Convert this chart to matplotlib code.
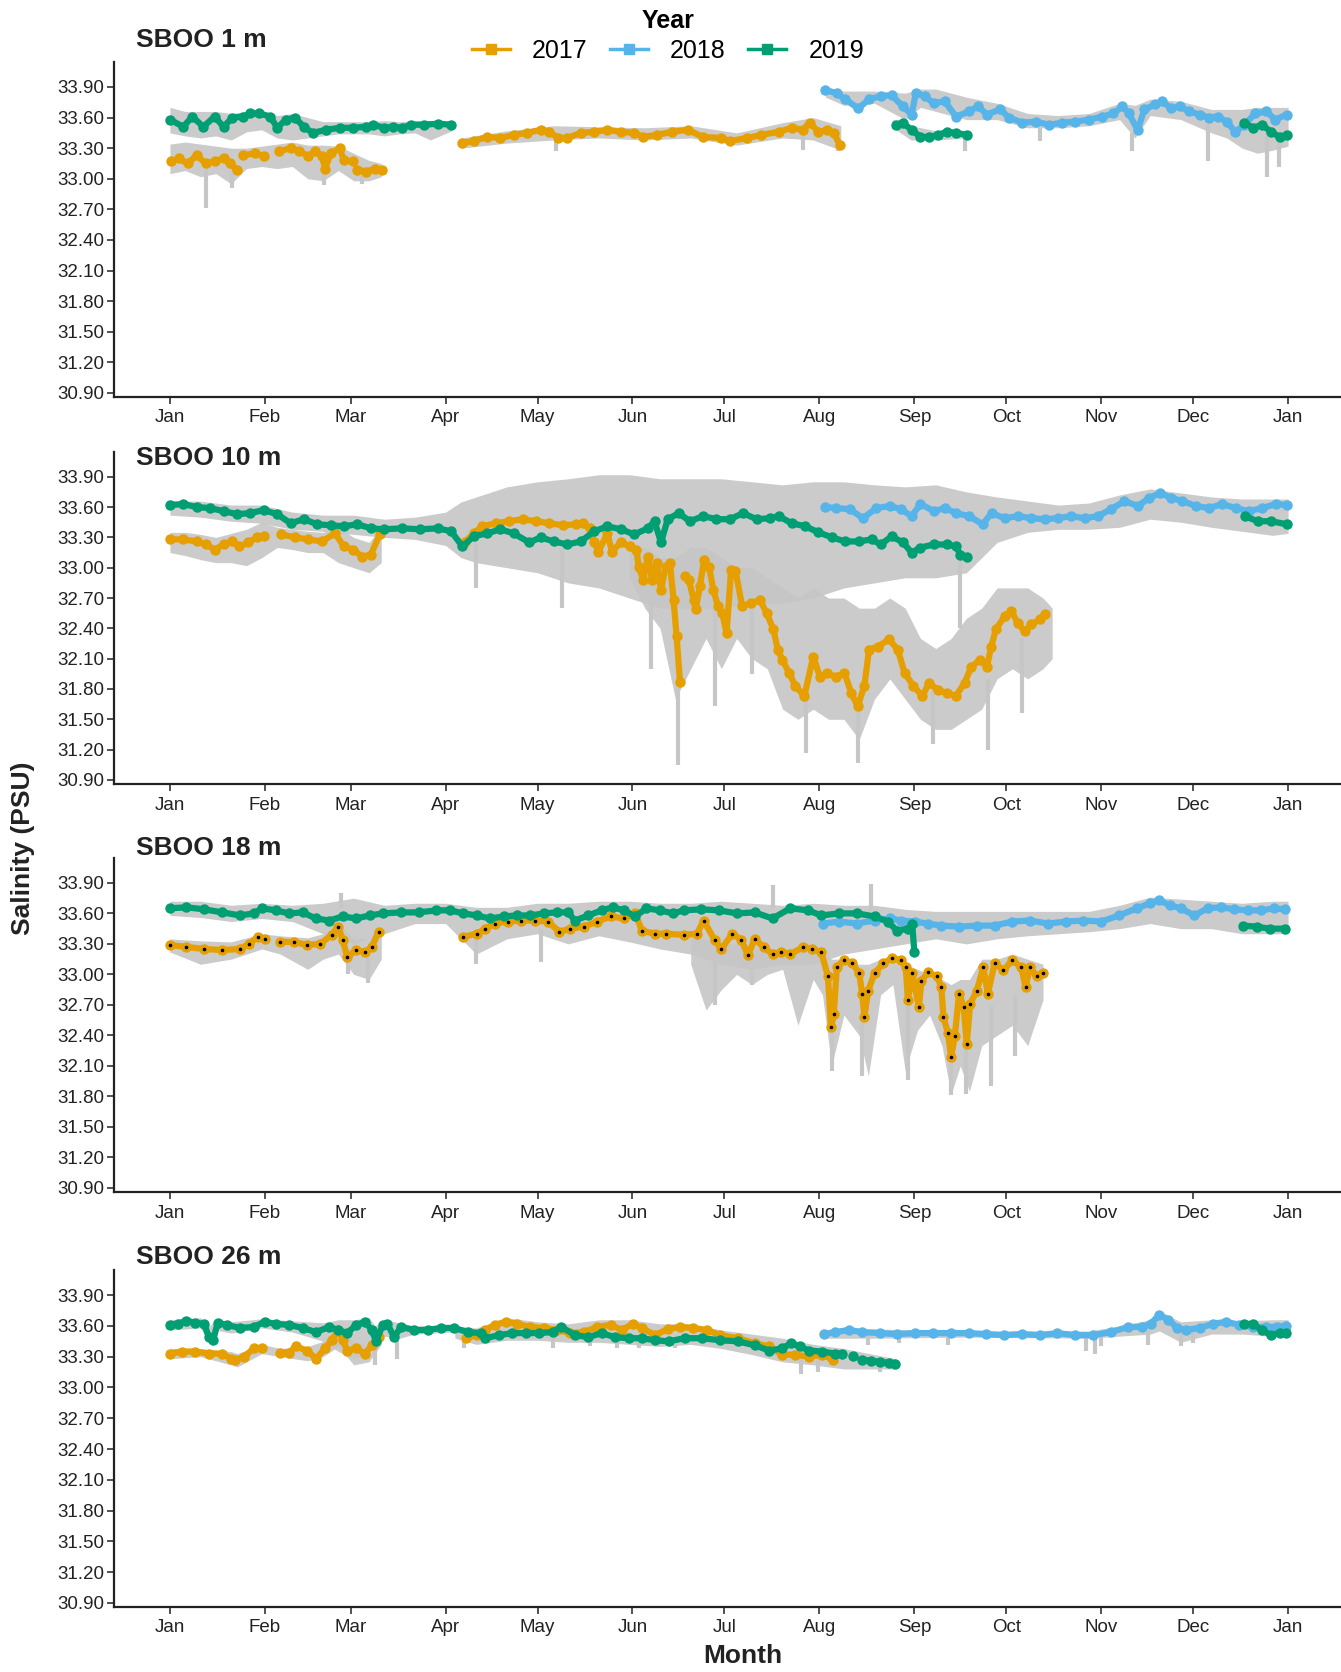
import numpy as np
import matplotlib
matplotlib.use("Agg")
import matplotlib.pyplot as plt
from matplotlib.lines import Line2D

plt.rcParams['font.family'] = ['Liberation Sans', 'DejaVu Sans']

nan = np.nan

# x axis: day of year, 0 = 1 Jan
month_names = ['Jan', 'Feb', 'Mar', 'Apr', 'May', 'Jun', 'Jul', 'Aug', 'Sep', 'Oct', 'Nov', 'Dec', 'Jan']
month_start = [0, 31, 59, 90, 120, 151, 181, 212, 243, 273, 304, 334, 365]
sal_ticks = [30.90, 31.20, 31.50, 31.80, 32.10, 32.40, 32.70, 33.00, 33.30, 33.60, 33.90]
years = ['2017', '2018', '2019']
colors = {'2017': '#E69F00', '2018': '#56B4E9', '2019': '#009E73'}
titles = ['SBOO 1 m', 'SBOO 10 m', 'SBOO 18 m', 'SBOO 26 m']

# ---------------- SBOO 1 m ----------------
d1_2017 = [0.5, 2.9, 5.8, 8.7, 11.7, 14.6, 17.5, 19.7, 21.9, nan, 24, 27.7, 30.6, nan,
           35.7, 39.4, 42.3, 45.2, 47.4, 49.6, 50.7, 52.5, 55.4, 56.8, 59.8, nan,
           61.2, 64.1, 67, 69.2, nan,
           95.5, 99.1, 103.5, 107.9, 112.2, 116.6, 121, 123.9, 126.8, 129.7, 134.1, 138.5,
           142.8, 147.2, 151.6, 154.5, 158.9, 164, 169, 174, 180, 182.8, 188.5, 193, 198.7,
           203, 206.6, 208.8, 211.7, 214.6, 216.8, 218.6]
v1_2017 = [33.17, 33.20, 33.15, 33.23, 33.15, 33.17, 33.20, 33.15, 33.09, nan, 33.23, 33.25, 33.22, nan,
           33.27, 33.30, 33.27, 33.22, 33.27, 33.22, 33.10, 33.25, 33.30, 33.18, 33.17, nan,
           33.09, 33.07, 33.10, 33.09, nan,
           33.35, 33.37, 33.41, 33.40, 33.43, 33.45, 33.48, 33.46, 33.40, 33.40, 33.45, 33.46,
           33.48, 33.46, 33.45, 33.41, 33.43, 33.46, 33.48, 33.41, 33.40, 33.37, 33.40, 33.43, 33.46,
           33.50, 33.48, 33.55, 33.46, 33.48, 33.45, 33.33]
d1_2018 = [213.9, 217.6, 220.4, 224.7, 228.3, 232, 235.6, 239.2, 242.1, 243.5, 246.4, 249.3, 252.9,
           256.6, 260.9, 263.8, 266.7, 271, 273.9, 278.3, 282.6, 287, 291.3, 295.6, 300, 304.4,
           308, 310.9, 313, 315.9, 318.1, 321.7, 323.9, 326.8, 329.7, 332.6, 336.3, 339.1, 342,
           344.9, 347.8, 350.7, 354.3, 357.9, 360.8, 364.5]
v1_2018 = [33.87, 33.84, 33.78, 33.69, 33.78, 33.81, 33.82, 33.71, 33.63, 33.84, 33.81, 33.74, 33.76,
           33.61, 33.66, 33.71, 33.63, 33.68, 33.60, 33.55, 33.56, 33.53, 33.55, 33.56, 33.58, 33.61,
           33.64, 33.71, 33.64, 33.48, 33.68, 33.73, 33.76, 33.69, 33.71, 33.66, 33.63, 33.60, 33.61,
           33.56, 33.46, 33.53, 33.64, 33.66, 33.58, 33.63]
d1_2019 = [0, 4.4, 7.3, 10.9, 14.6, 17.5, 20.4, 24, 26.2, 29.2, 32.8, 35, 37.9, 40.8, 43.7, 46.6,
           51, 55.4, 59.8, 64.1, 66.3, 70, 72.9, 75.8, 78.7, 83.1, 87.5, 91.8, nan,
           236.9, 239.2, 242.1, 245, 247.9, 250.8, 253.6, 256.5, 260.2, nan,
           350.7, 353.6, 356.5, 359.4, 362.3, 364.5]
v1_2019 = [33.58, 33.51, 33.61, 33.51, 33.61, 33.51, 33.60, 33.61, 33.64, 33.64, 33.61, 33.50, 33.58,
           33.60, 33.51, 33.45, 33.48, 33.50, 33.50, 33.51, 33.53, 33.50, 33.51, 33.50, 33.53, 33.53,
           33.54, 33.53, nan,
           33.53, 33.55, 33.48, 33.41, 33.41, 33.43, 33.46, 33.45, 33.43, nan,
           33.55, 33.50, 33.53, 33.46, 33.41, 33.43]

# raw-reading clouds (grey) as lower/upper envelopes
g1a_d = [0, 5, 10, 15, 20, 25, 30, 35, 40, 45, 50, 55, 60, 65, 70, 75, 80, 85, 92]
g1a_hi = [33.70, 33.66, 33.66, 33.66, 33.64, 33.66, 33.67, 33.62, 33.64, 33.60, 33.56, 33.56, 33.56,
          33.56, 33.57, 33.56, 33.57, 33.57, 33.56]
g1a_lo = [33.45, 33.42, 33.40, 33.42, 33.38, 33.46, 33.48, 33.40, 33.38, 33.40, 33.42, 33.44, 33.44,
          33.44, 33.42, 33.44, 33.45, 33.38, 33.47]
g1b_d = [0, 5, 10, 15, 20, 25, 30, 35, 40, 45, 50, 55, 60, 65, 69]
g1b_hi = [33.34, 33.36, 33.34, 33.32, 33.30, 33.30, 33.32, 33.34, 33.36, 33.33, 33.33, 33.32, 33.25, 33.18, 33.15]
g1b_lo = [33.05, 33.08, 33.02, 33.05, 32.95, 33.10, 33.12, 33.10, 33.12, 33.00, 32.98, 33.08, 32.98, 32.98, 33.02]
g1c_d = [95, 110, 125, 140, 155, 170, 185, 200, 210, 219]
g1c_hi = [33.40, 33.47, 33.52, 33.51, 33.50, 33.52, 33.45, 33.55, 33.60, 33.52]
g1c_lo = [33.30, 33.35, 33.38, 33.40, 33.38, 33.40, 33.33, 33.40, 33.38, 33.28]
g1d_d = [214, 220, 230, 240, 245, 250, 260, 270, 280, 290, 300, 310, 315, 320, 330, 340, 345, 350, 355, 360, 365]
g1d_hi = [33.90, 33.86, 33.86, 33.84, 33.88, 33.88, 33.80, 33.74, 33.64, 33.62, 33.64, 33.74, 33.72,
          33.78, 33.76, 33.68, 33.68, 33.68, 33.70, 33.70, 33.70]
g1d_lo = [33.80, 33.72, 33.74, 33.58, 33.70, 33.66, 33.58, 33.58, 33.50, 33.50, 33.52, 33.58, 33.40,
          33.62, 33.58, 33.45, 33.40, 33.30, 33.25, 33.28, 33.32]
g1e_d = [236, 242, 250, 260]
g1e_hi = [33.58, 33.52, 33.47, 33.47]
g1e_lo = [33.50, 33.38, 33.38, 33.40]
sp1_d = [11.7, 20.4, 50.3, 62.7, 126, 206.5, 218, 259.6, 284, 314, 339, 358, 362]
sp1_lo = [32.71, 32.91, 32.94, 32.95, 33.27, 33.28, 33.27, 33.27, 33.37, 33.27, 33.17, 33.02, 33.12]
sp1_hi = [33.15, 33.15, 33.15, 33.08, 33.40, 33.45, 33.40, 33.40, 33.50, 33.45, 33.55, 33.45, 33.40]

# ---------------- SBOO 10 m ----------------
d10_2017 = [0, 4.4, 8.7, 11.7, 14.6, 17.5, 20.4, 22.6, 25.5, 28.4, 30.6, nan,
            36.4, 40.8, 45.2, 49.6, 53.9, 56.8, 59.8, 62.7, 65.6, 68.5, nan,
            96.2, 99.1, 102, 106.4, 110.8, 115.1, 119.5, 123.9, 128.3, 132.6, 134.8, 137, 138.5,
            139.9, 142.8, 144.3, 147.2, 150.1, 152.3, 153, 154.5, 156, 157.4, 158.9, 160.3, 161.8,
            163.2, 164.4, 165.4, 166.5, nan,
            168, 169.4, 171, 171.6, 173, 174.4, 176, 177.4, 178.9, 180.3, 181.7, 183.2, 184.6,
            186.8, 189.7, 192.6, 194.8, 197, 198.4, 199.9, 202.1, 204.2, 207.1, 210, 212.2, 214.4,
            217.3, 220.2, 222.4, 224.5, 226.7, 228.2, 231.1, 234.7, 237.6, 239.8, 242.7, 245.6,
            247.8, 250.7, 253.6, 256.5, 259.4, 261.6, 264.5, 266.7, 268.1, 269.6, 272.5, 274.7,
            276.8, 279, 281.2, 284.1, 285.5]
v10_2017 = [33.28, 33.28, 33.26, 33.23, 33.18, 33.23, 33.26, 33.21, 33.25, 33.30, 33.31, nan,
            33.33, 33.30, 33.28, 33.26, 33.34, 33.21, 33.18, 33.11, 33.13, 33.33, nan,
            33.25, 33.34, 33.41, 33.44, 33.46, 33.48, 33.46, 33.44, 33.42, 33.43, 33.44, 33.39, 33.25,
            33.16, 33.34, 33.16, 33.25, 33.21, 33.18, 33.01, 32.88, 33.11, 32.88, 33.05, 32.78, 33.01,
            33.05, 32.68, 32.32, 31.87, nan,
            32.92, 32.88, 32.68, 32.59, 32.82, 33.08, 33.01, 32.78, 32.62, 32.55, 32.35, 32.98, 32.97,
            32.62, 32.65, 32.68, 32.55, 32.39, 32.19, 32.09, 31.96, 31.83, 31.73, 32.12, 31.92, 31.96,
            31.92, 31.96, 31.76, 31.63, 31.83, 32.19, 32.22, 32.29, 32.19, 31.96, 31.83, 31.73,
            31.86, 31.79, 31.76, 31.73, 31.86, 32.02, 32.09, 32.02, 32.22, 32.39, 32.52, 32.57,
            32.45, 32.37, 32.44, 32.49, 32.54]
d10_2018 = [213.9, 217.5, 221.9, 226.2, 230.6, 234.9, 238.6, 242.1, 245, 249.4, 253, 256.6, 260.9,
            265.3, 268.2, 272.5, 276.9, 281.2, 285.6, 289.9, 294.2, 298.6, 302.9, 307.3, 311.6, 316,
            319.6, 323.3, 326.9, 330.5, 334.9, 339.2, 343.5, 347.9, 352.2, 356.6, 360.9, 364.5]
v10_2018 = [33.60, 33.59, 33.58, 33.49, 33.59, 33.61, 33.58, 33.51, 33.63, 33.56, 33.59, 33.54, 33.51,
            33.43, 33.54, 33.49, 33.51, 33.49, 33.48, 33.49, 33.51, 33.49, 33.51, 33.58, 33.66, 33.61,
            33.69, 33.74, 33.69, 33.66, 33.61, 33.59, 33.63, 33.59, 33.56, 33.59, 33.63, 33.62]
d10_2019 = [0, 4.4, 8.7, 13.1, 17.5, 21.9, 26.2, 30.6, 35, 39.4, 43.7, 48.1, 52.5, 56.8, 61.2, 65.6,
            70, 75.8, 81.6, 87.5, 91.8, 95.5, 99.1, 103.5, 107.9, 112.2, 117.3, 121, 125.3, 129.7,
            134.1, 138.5, 142.8, 147.2, 151.6, 156, 158.2, 160.3, 162.5, 166.1, 169.7, 174.1, 178.4,
            182.8, 187.1, 191.5, 195.8, 198.7, 203, 207.4, 211.7, 216.1, 220.4, 224.8, 229.1, 232,
            235.6, 239.3, 242.1, 245, 249.4, 253.7, 256.6, 258, 260.2, nan,
            350.8, 355.1, 359.5, 364.5]
v10_2019 = [33.62, 33.63, 33.60, 33.59, 33.56, 33.53, 33.54, 33.57, 33.53, 33.44, 33.48, 33.43, 33.42,
            33.41, 33.43, 33.39, 33.38, 33.39, 33.38, 33.39, 33.36, 33.21, 33.31, 33.34, 33.38, 33.34,
            33.25, 33.30, 33.26, 33.23, 33.26, 33.36, 33.41, 33.38, 33.33, 33.39, 33.46, 33.25, 33.48,
            33.54, 33.46, 33.51, 33.48, 33.48, 33.54, 33.48, 33.49, 33.51, 33.44, 33.41, 33.35, 33.30,
            33.26, 33.26, 33.28, 33.23, 33.31, 33.25, 33.15, 33.20, 33.23, 33.23, 33.21, 33.13, 33.11, nan,
            33.51, 33.46, 33.46, 33.43]

g10a_d = [0, 10, 20, 30, 40, 50, 60, 70, 80, 90, 95, 100, 110, 120, 130, 140, 150, 160, 170, 180,
          190, 200, 210, 220, 230, 240, 250, 260, 270, 280, 290, 300, 310, 320, 330, 340, 350, 360, 365]
g10a_hi = [33.66, 33.66, 33.62, 33.62, 33.55, 33.52, 33.52, 33.48, 33.50, 33.55, 33.65, 33.70, 33.80,
           33.85, 33.88, 33.92, 33.92, 33.88, 33.88, 33.88, 33.85, 33.82, 33.85, 33.85, 33.82, 33.80,
           33.82, 33.75, 33.70, 33.66, 33.62, 33.64, 33.72, 33.78, 33.74, 33.70, 33.68, 33.68, 33.68]
g10a_lo = [33.52, 33.50, 33.46, 33.44, 33.38, 33.36, 33.33, 33.30, 33.28, 33.22, 33.10, 33.05, 33.00,
           32.95, 32.85, 32.80, 32.70, 32.60, 32.60, 32.60, 32.65, 32.65, 32.70, 32.80, 32.85, 32.90,
           32.90, 32.95, 33.25, 33.35, 33.38, 33.38, 33.40, 33.48, 33.45, 33.40, 33.36, 33.32, 33.34]
g10b_d = [0, 5, 10, 15, 20, 25, 30, 35, 40, 45, 50, 55, 60, 65, 69]
g10b_hi = [33.35, 33.35, 33.33, 33.30, 33.34, 33.38, 33.45, 33.40, 33.38, 33.36, 33.35, 33.40, 33.30, 33.25, 33.40]
g10b_lo = [33.15, 33.12, 33.08, 33.05, 33.05, 33.02, 33.10, 33.20, 33.18, 33.15, 33.15, 33.05, 33.00, 32.95, 33.05]
g10c_d = [150, 155, 160, 165, 170, 175, 180, 185, 190, 195, 200, 205, 210, 215, 220, 225, 230, 235,
          240, 245, 250, 255, 260, 265, 270, 275, 280, 285, 288]
g10c_hi = [33.2, 33.2, 33.1, 33.1, 33.2, 33.2, 33.1, 33.0, 33.0, 32.9, 32.8, 32.7, 32.8, 32.7, 32.7,
           32.6, 32.6, 32.7, 32.6, 32.3, 32.2, 32.3, 32.5, 32.6, 32.8, 32.8, 32.8, 32.7, 32.6]
g10c_lo = [32.9, 32.6, 32.4, 31.7, 32.0, 32.3, 32.0, 32.3, 32.1, 32.0, 31.6, 31.5, 31.6, 31.5, 31.5,
           31.3, 31.7, 31.9, 31.7, 31.5, 31.4, 31.4, 31.5, 31.6, 31.9, 32.0, 31.9, 32.0, 32.1]
sp10_d = [100, 128, 157, 166, 178, 190, 207.5, 224.5, 249, 258, 267, 278]
sp10_lo = [32.80, 32.60, 32.00, 31.05, 31.63, 31.95, 31.17, 31.07, 31.26, 32.40, 31.20, 31.56]
sp10_hi = [33.30, 33.20, 32.90, 31.90, 32.60, 32.60, 31.80, 31.70, 31.80, 33.10, 31.90, 32.30]

# ---------------- SBOO 18 m ----------------
d18_2017 = [0, 5.4, 11.2, 17.1, 22.9, 25.8, 28.7, 30.9, nan,
            36, 40.4, 44.7, 49.1, 52.8, 54.9, 56.4, 57.9, 60.8, 63.7, 65.9, 68.1, nan,
            95.8, 100.1, 103, 106, 110.3, 114.7, 119.1, 123.4, 127.1, 130.7, 135.1, 139.5, 143.9,
            148.2, 151.9, 154.1, 158.4, 162, 167.7, 172.1, 174.2, 177.8, 180, 183.6, 186.5, 188.7,
            190.9, 193.8, 196.7, 199.6, 202.5, 206.8, 209.7, 212.6, 214.8, 215.8, 216.7, 217.7,
            219.9, 222.8, 225, 226, 226.7, 227.9, 230, 232.9, 235.8, 238.7, 240.2, 240.9, 242.3,
            244.5, 245.3, 247.5, 250.4, 251.8, 252.5, 254, 255, 256.2, 257.6, 259.1, 260.1, 261.2,
            263.4, 265.5, 267, 269.2, 272.1, 275, 277.9, 279.3, 280.8, 282.9, 285.1]
v18_2017 = [33.29, 33.27, 33.25, 33.24, 33.25, 33.30, 33.37, 33.35, nan,
            33.32, 33.32, 33.29, 33.30, 33.39, 33.47, 33.34, 33.17, 33.24, 33.22, 33.27, 33.42, nan,
            33.37, 33.40, 33.45, 33.50, 33.52, 33.53, 33.53, 33.52, 33.42, 33.45, 33.47, 33.52, 33.57,
            33.55, 33.60, 33.43, 33.40, 33.40, 33.39, 33.40, 33.53, 33.34, 33.25, 33.40, 33.34, 33.19,
            33.35, 33.27, 33.20, 33.22, 33.20, 33.27, 33.25, 33.22, 32.98, 32.48, 32.61, 33.07,
            33.14, 33.11, 33.01, 32.81, 32.58, 32.84, 33.01, 33.11, 33.16, 33.14, 33.07, 32.75, 33.01,
            32.68, 32.94, 33.02, 32.98, 32.88, 32.58, 32.42, 32.19, 32.39, 32.81, 32.68, 32.32, 32.71,
            32.84, 33.07, 32.81, 33.11, 33.04, 33.14, 33.07, 32.88, 33.07, 32.98, 33.01]
d18_2018 = [213.3, 218.4, 224.2, 230, 235.1, 238.7, 243.1, 247.4, 251.8, 257.6, 263.4, 269.2, 275,
            280.8, 286.6, 292.4, 298.2, 304, 309.8, 315.6, 319.9, 322.8, 326.4, 330, 334.4, 338.7,
            343.1, 347.4, 351.8, 356.1, 360.5, 364.1]
v18_2018 = [33.50, 33.52, 33.50, 33.53, 33.55, 33.53, 33.52, 33.50, 33.48, 33.47, 33.48, 33.48, 33.52,
            33.53, 33.50, 33.52, 33.53, 33.52, 33.58, 33.65, 33.70, 33.73, 33.68, 33.65, 33.58, 33.65,
            33.66, 33.64, 33.63, 33.63, 33.65, 33.64]
d18_2019 = [0, 5.4, 11.2, 17.1, 22.9, 27.3, 30.2, 34.5, 38.9, 43.3, 47.7, 52, 56.4, 60.8, 65.2, 69.5,
            75.4, 81.2, 87, 91.4, 95.8, 100.1, 104.5, 108.9, 113.2, 117.6, 122, 126.4, 130, 132.2,
            136.6, 140.9, 144.6, 148.2, 151.9, 155.5, 159.9, 164.3, 167.7, 173.5, 179.3, 185.1, 190.9,
            196.7, 202.5, 208.3, 212.6, 218.4, 224.2, 230, 234.4, 237.3, 240.9, 242.3, 243, nan,
            350.3, 354.7, 359, 364.1]
v18_2019 = [33.65, 33.66, 33.64, 33.61, 33.58, 33.60, 33.65, 33.63, 33.60, 33.61, 33.55, 33.53, 33.57,
            33.55, 33.58, 33.60, 33.61, 33.61, 33.63, 33.63, 33.60, 33.58, 33.55, 33.57, 33.58, 33.58,
            33.60, 33.61, 33.61, 33.53, 33.58, 33.63, 33.66, 33.63, 33.57, 33.65, 33.63, 33.60, 33.63,
            33.64, 33.63, 33.60, 33.61, 33.55, 33.65, 33.63, 33.58, 33.60, 33.60, 33.57, 33.52, 33.43,
            33.45, 33.50, 33.22, nan,
            33.48, 33.47, 33.45, 33.45]

g18a_d = [0, 10, 20, 30, 40, 50, 60, 70, 80, 90, 100, 110, 120, 130, 140, 150, 160, 170, 180, 190,
          200, 210, 220, 230, 240, 250, 260, 270, 280, 290, 300, 310, 320, 330, 340, 350, 360, 365]
g18a_hi = [33.72, 33.72, 33.68, 33.70, 33.68, 33.70, 33.75, 33.68, 33.70, 33.70, 33.66, 33.66, 33.70,
           33.70, 33.72, 33.72, 33.70, 33.70, 33.72, 33.70, 33.68, 33.70, 33.68, 33.68, 33.64, 33.62,
           33.62, 33.62, 33.62, 33.62, 33.62, 33.68, 33.76, 33.74, 33.72, 33.70, 33.72, 33.72]
g18a_lo = [33.58, 33.56, 33.52, 33.55, 33.52, 33.40, 33.30, 33.40, 33.50, 33.50, 33.20, 33.35, 33.40,
           33.30, 33.38, 33.32, 33.25, 33.20, 33.10, 33.05, 33.10, 33.10, 33.20, 33.25, 33.30, 33.35,
           33.30, 33.35, 33.38, 33.40, 33.42, 33.45, 33.50, 33.45, 33.45, 33.40, 33.40, 33.40]
g18b_d = [0, 10, 20, 30, 36, 45, 50, 55, 60, 65, 69]
g18b_hi = [33.35, 33.33, 33.32, 33.40, 33.38, 33.36, 33.40, 33.50, 33.35, 33.35, 33.45]
g18b_lo = [33.22, 33.10, 33.15, 33.25, 33.20, 33.05, 33.15, 33.20, 33.00, 32.95, 33.15]
g18c_d = [170, 175, 180, 185, 190, 195, 200, 205, 210, 213, 216, 220, 225, 228, 232, 236, 240, 244,
          248, 252, 255, 258, 261, 265, 270, 275, 280, 285]
g18c_hi = [33.35, 33.35, 33.30, 33.30, 33.25, 33.25, 33.25, 33.25, 33.25, 33.20, 33.15, 33.15, 33.10,
           33.10, 33.15, 33.15, 33.10, 33.05, 33.00, 32.95, 32.90, 32.95, 32.95, 33.15, 33.15, 33.20,
           33.15, 33.10]
g18c_lo = [33.10, 32.65, 32.85, 33.00, 32.90, 33.00, 33.05, 32.50, 32.95, 32.80, 32.10, 32.60, 32.40,
           32.00, 32.80, 32.90, 32.05, 32.45, 32.60, 32.30, 31.82, 32.10, 31.85, 32.30, 32.40, 32.50,
           32.30, 32.75]
sp18_d = [58, 64.5, 100, 121, 178, 190, 216, 226, 241, 255, 260, 268, 276, 56, 197, 229]
sp18_lo = [33.00, 32.92, 33.10, 33.12, 32.70, 32.90, 32.05, 32.00, 31.96, 31.81, 31.82, 31.90, 32.20,
           33.65, 33.65, 33.62]
sp18_hi = [33.25, 33.25, 33.40, 33.45, 33.30, 33.30, 32.50, 32.60, 32.70, 32.40, 32.40, 32.70, 32.80,
           33.80, 33.88, 33.89]

# ---------------- SBOO 26 m ----------------
d26_2017 = [0, 3.9, 8.3, 12.7, 17.1, 20, 21.4, 24.3, 27.3, 30.2, nan,
            36, 38.9, 41.1, 44.7, 47.7, 50.6, 52.8, 55, 56.4, 57.9, 60.8, 63.7, 65.9, 68.1, nan,
            96.5, 100.1, 103, 106, 109.6, 113.2, 117.6, 122, 126.4, 130.7, 135.1, 139.5, 143.9,
            147.5, 151.1, 154, 158.4, 162.5, 166.5, 170.9, 175.2, 179.6, 185.3, 191.1, 195.5,
            199.8, 204.2, 208.5, 212.9, 216.5]
v26_2017 = [33.33, 33.35, 33.35, 33.33, 33.33, 33.28, 33.27, 33.30, 33.38, 33.38, nan,
            33.34, 33.34, 33.40, 33.36, 33.28, 33.38, 33.46, 33.56, 33.46, 33.36, 33.38, 33.33, 33.41, 33.49, nan,
            33.48, 33.51, 33.56, 33.61, 33.64, 33.62, 33.59, 33.58, 33.56, 33.53, 33.54, 33.59, 33.61,
            33.56, 33.62, 33.58, 33.51, 33.57, 33.59, 33.58, 33.56, 33.51, 33.48, 33.43, 33.40,
            33.32, 33.32, 33.30, 33.32, 33.27]
d26_2018 = [213.6, 217.2, 221.6, 226, 231.7, 237.5, 243.3, 249.1, 254.9, 260.7, 266.5, 272.3, 278.1,
            283.9, 289.7, 295.5, 301.3, 307.1, 312.9, 317.2, 320.1, 323, 325.9, 328.8, 331.7, 336.1,
            340.4, 344.8, 349.1, 353.5, 357.8, 361.4, 364.3]
v26_2018 = [33.52, 33.54, 33.56, 33.54, 33.53, 33.52, 33.53, 33.53, 33.53, 33.53, 33.52, 33.51, 33.52,
            33.51, 33.53, 33.51, 33.51, 33.54, 33.59, 33.59, 33.62, 33.71, 33.66, 33.58, 33.56, 33.58,
            33.62, 33.64, 33.61, 33.59, 33.59, 33.59, 33.60]
d26_2019 = [0, 2.5, 5.4, 8.3, 11.2, 12.7, 14.1, 15.6, 18.5, 22.9, 27.3, 30.9, 34.5, 38.9, 43.3, 47.7,
            52, 55, 57.9, 60.8, 63.7, 65.9, 67.3, 69.5, 71, 73.2, 75.4, 79.7, 84.1, 88.5, 92.8, 97.2,
            101.6, 103, 107.4, 111.8, 116.2, 120.5, 124.9, 127.8, 132.2, 136.6, 140.9, 145.3, 149.7,
            154, 158.4, 162.8, 168, 173.8, 179.6, 185.3, 191.1, 195.5, 199.8, 202.7, 205.6, 208.5,
            212.9, 217.2, 219.4, nan, 223, nan, 226, 228.8, 231.7, 234.6, 236.8, nan,
            350.6, 353.5, 356.4, 359.3, 362.2, 364.3]
v26_2019 = [33.61, 33.62, 33.65, 33.63, 33.62, 33.49, 33.46, 33.63, 33.61, 33.58, 33.59, 33.64, 33.62,
            33.61, 33.58, 33.54, 33.59, 33.56, 33.53, 33.61, 33.64, 33.56, 33.45, 33.61, 33.62, 33.49,
            33.59, 33.56, 33.56, 33.58, 33.58, 33.54, 33.53, 33.48, 33.51, 33.53, 33.53, 33.53, 33.54,
            33.59, 33.51, 33.49, 33.53, 33.49, 33.48, 33.48, 33.46, 33.45, 33.48, 33.48, 33.46, 33.45,
            33.41, 33.36, 33.38, 33.43, 33.40, 33.36, 33.35, 33.33, 33.33, nan, 33.31, nan,
            33.27, 33.26, 33.25, 33.24, 33.23, nan,
            33.62, 33.62, 33.56, 33.51, 33.53, 33.53]

g26a_d = [0, 10, 13, 15, 20, 30, 40, 50, 55, 60, 65, 67, 70, 75, 80, 92]
g26a_hi = [33.66, 33.68, 33.60, 33.66, 33.64, 33.67, 33.65, 33.63, 33.66, 33.66, 33.68, 33.60, 33.66, 33.63, 33.60, 33.61]
g26a_lo = [33.56, 33.58, 33.42, 33.56, 33.53, 33.58, 33.54, 33.45, 33.35, 33.28, 33.35, 33.40, 33.50, 33.48, 33.52, 33.54]
g26b_d = [0, 10, 20, 22, 30, 36, 45, 50, 55, 60, 65, 69]
g26b_hi = [33.38, 33.38, 33.35, 33.33, 33.42, 33.38, 33.40, 33.45, 33.58, 33.45, 33.40, 33.52]
g26b_lo = [33.28, 33.30, 33.22, 33.20, 33.33, 33.30, 33.26, 33.30, 33.40, 33.22, 33.25, 33.42]
g26c_d = [93, 100, 110, 120, 130, 140, 150, 160, 170, 180, 190, 200, 210, 220, 230, 237]
g26c_hi = [33.60, 33.58, 33.68, 33.64, 33.62, 33.66, 33.66, 33.62, 33.62, 33.56, 33.52, 33.48, 33.42, 33.38, 33.32, 33.28]
g26c_lo = [33.48, 33.42, 33.46, 33.46, 33.44, 33.44, 33.42, 33.40, 33.42, 33.38, 33.32, 33.25, 33.22, 33.18, 33.18, 33.18]
g26d_d = [213, 230, 260, 300, 310, 320, 323, 330, 340, 350, 360, 365]
g26d_hi = [33.56, 33.57, 33.55, 33.55, 33.60, 33.66, 33.74, 33.64, 33.66, 33.65, 33.66, 33.66]
g26d_lo = [33.48, 33.48, 33.49, 33.48, 33.50, 33.52, 33.55, 33.44, 33.52, 33.52, 33.50, 33.50]
sp26_d = [67, 74, 96, 125, 137, 146, 153, 165, 206, 211.4, 228, 231.7, 238, 254, 299, 302, 304, 319.4, 330, 334]
sp26_lo = [33.22, 33.28, 33.38, 33.38, 33.40, 33.38, 33.38, 33.38, 33.13, 33.15, 33.41, 33.15, 33.43,
           33.41, 33.36, 33.33, 33.40, 33.41, 33.40, 33.43]
sp26_hi = [33.40, 33.45, 33.48, 33.50, 33.50, 33.48, 33.46, 33.45, 33.30, 33.30, 33.52, 33.26, 33.52,
           33.52, 33.50, 33.50, 33.50, 33.55, 33.55, 33.55]

panels = [
    dict(title=titles[0],
         series={'2017': (d1_2017, v1_2017), '2018': (d1_2018, v1_2018), '2019': (d1_2019, v1_2019)},
         clouds=[(g1a_d, g1a_lo, g1a_hi), (g1b_d, g1b_lo, g1b_hi), (g1c_d, g1c_lo, g1c_hi),
                 (g1d_d, g1d_lo, g1d_hi), (g1e_d, g1e_lo, g1e_hi)],
         spikes=(sp1_d, sp1_lo, sp1_hi), dots=False),
    dict(title=titles[1],
         series={'2017': (d10_2017, v10_2017), '2018': (d10_2018, v10_2018), '2019': (d10_2019, v10_2019)},
         clouds=[(g10a_d, g10a_lo, g10a_hi), (g10b_d, g10b_lo, g10b_hi), (g10c_d, g10c_lo, g10c_hi)],
         spikes=(sp10_d, sp10_lo, sp10_hi), dots=False),
    dict(title=titles[2],
         series={'2017': (d18_2017, v18_2017), '2018': (d18_2018, v18_2018), '2019': (d18_2019, v18_2019)},
         clouds=[(g18a_d, g18a_lo, g18a_hi), (g18b_d, g18b_lo, g18b_hi), (g18c_d, g18c_lo, g18c_hi)],
         spikes=(sp18_d, sp18_lo, sp18_hi), dots=True),
    dict(title=titles[3],
         series={'2017': (d26_2017, v26_2017), '2018': (d26_2018, v26_2018), '2019': (d26_2019, v26_2019)},
         clouds=[(g26a_d, g26a_lo, g26a_hi), (g26b_d, g26b_lo, g26b_hi), (g26c_d, g26c_lo, g26c_hi),
                 (g26d_d, g26d_lo, g26d_hi)],
         spikes=(sp26_d, sp26_lo, sp26_hi), dots=False),
]

W, H = 1341, 1672
fig = plt.figure(figsize=(W / 100, H / 100), dpi=100)

# axes boxes in pixels: (top, bottom)
boxes = [(62, 397), (452, 784), (858, 1192), (1270, 1607)]
title_y = [40, 458, 848, 1257]
left_px, right_px = 114, 1344
GREY = '#c6c6c6'

for p, (top, bot), ty in zip(panels, boxes, title_y):
    ax = fig.add_axes([left_px / W, 1 - bot / H, (right_px - left_px) / W, (bot - top) / H])
    for d, lo, hi in p['clouds']:
        ax.fill_between(d, lo, hi, color=GREY, lw=0, alpha=0.9, zorder=1)
    sd, slo, shi = p['spikes']
    ax.vlines(sd, slo, shi, color=GREY, lw=3, zorder=1)
    for i, yr in enumerate(years):
        d, v = p['series'][yr]
        ax.plot(d, v, color=colors[yr], lw=4.5, marker='o', ms=7.5, mew=0,
                solid_capstyle='round', solid_joinstyle='round', zorder=3 + i)
        if p['dots'] and yr == '2017':
            ax.plot(d, v, ls='none', marker='o', ms=1.6, color='black', zorder=3.5)
    ax.set_xlim(-18.25, 383.25)
    ax.set_ylim(30.86, 34.145)
    ax.set_xticks(month_start)
    ax.set_xticklabels(month_names)
    ax.set_yticks(sal_ticks)
    ax.set_yticklabels(['%.2f' % t for t in sal_ticks])
    for s in ['top', 'right']:
        ax.spines[s].set_visible(False)
    for s in ['left', 'bottom']:
        ax.spines[s].set_linewidth(1.6)
        ax.spines[s].set_color('#222222')
    ax.tick_params(axis='both', direction='out', length=5, width=1.2, color='#333333',
                   labelsize=13.5, labelcolor='#222222')
    ax.tick_params(axis='y', pad=2)
    ax.tick_params(axis='x', pad=4)
    fig.text(136 / W, 1 - ty / H, p['title'], fontsize=19, fontweight='bold',
             color='#222222', va='center', ha='left')

handles = [Line2D([], [], color=colors[y], lw=2.5, marker='s', ms=7) for y in years]
fig.legend(handles, years, title='Year', ncol=3, loc='center',
           bbox_to_anchor=(668 / W, 1 - 36 / H), frameon=False, fontsize=18,
           title_fontproperties={'weight': 'bold', 'size': 18}, numpoints=1,
           handlelength=1.5, handletextpad=0.9, columnspacing=0.9, borderpad=0,
           labelspacing=0.2)

fig.text(23 / W, 1 - 848 / H, 'Salinity (PSU)', rotation=90, fontsize=19, fontweight='bold',
         color='#222222', va='center', ha='center')
fig.text(743 / W, 1 - 1656 / H, 'Month', fontsize=19, fontweight='bold',
         color='#222222', va='center', ha='center')

fig.savefig('out.png', dpi=100)
